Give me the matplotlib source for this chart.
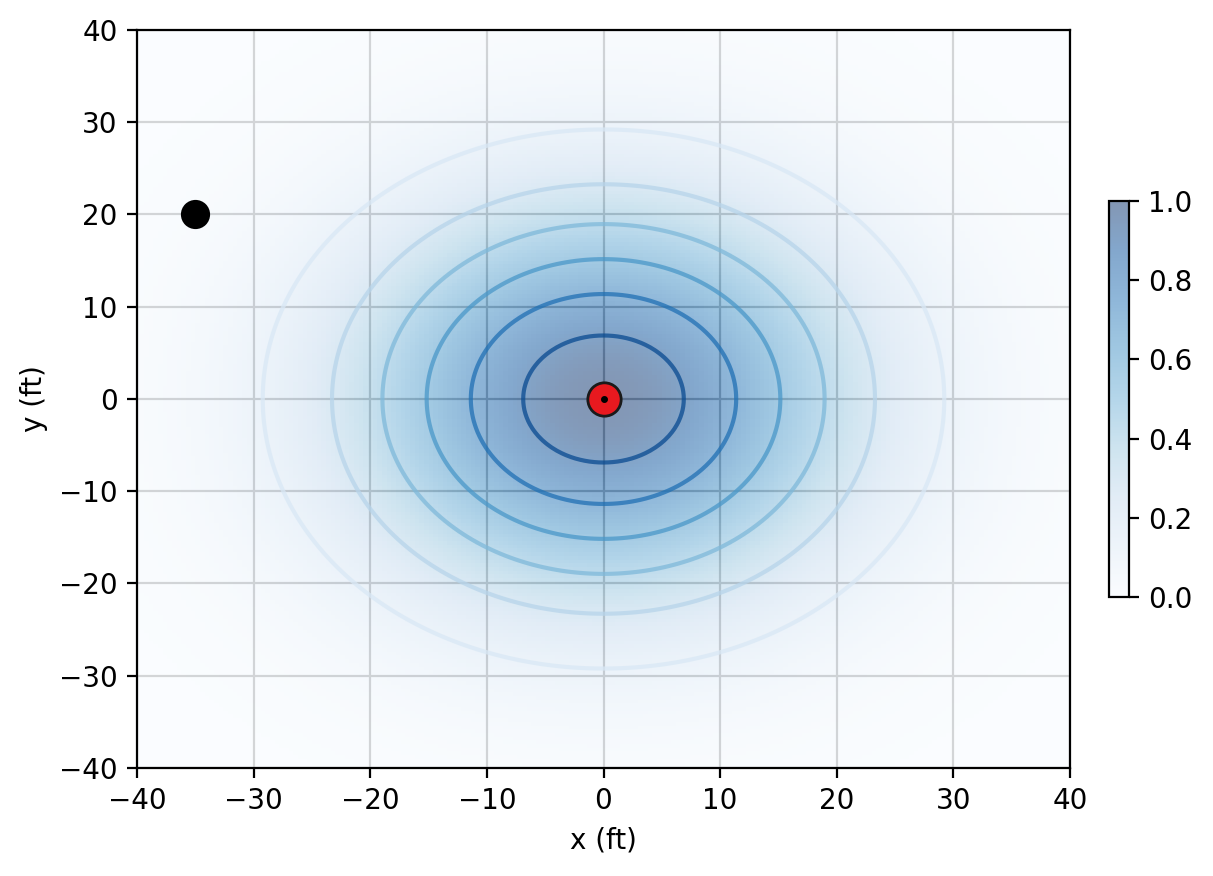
import numpy as np
import matplotlib
matplotlib.use("Agg")
import matplotlib.pyplot as plt

# campo gaussiano centrado en la fuente
fuente_x, fuente_y = 0, 0
sigma = 15
objetivo_x, objetivo_y = -35, 20
niveles = [0.15, 0.30, 0.45, 0.60, 0.75, 0.90]
x = np.linspace(-40, 40, 201)
y = np.linspace(-40, 40, 201)

X, Y = np.meshgrid(x, y)
Z = np.exp(-((X - fuente_x) ** 2 + (Y - fuente_y) ** 2) / (2 * sigma ** 2))

fig = plt.figure(figsize=(6.065, 4.38), dpi=200)
ax = fig.add_axes([137 / 1213, 1 - 768 / 876, 933 / 1213, 738 / 876])
cax = fig.add_axes([1109 / 1213, 1 - 597 / 876, 20 / 1213, 396 / 876])

malla = ax.pcolormesh(X, Y, Z, cmap="Blues", vmin=0, vmax=1, alpha=0.5, shading="auto")
ax.contour(X, Y, Z, levels=niveles, cmap="Blues", vmin=0, vmax=1, alpha=0.75, linewidths=1.5)
ax.set_axisbelow(True)
ax.grid(True)

ax.plot(objetivo_x, objetivo_y, "o", color="black", markersize=9.5)
ax.plot(fuente_x, fuente_y, "o", color="#e8191f", markeredgecolor="#1a1a1a",
        markeredgewidth=1.0, markersize=12)
ax.plot(fuente_x, fuente_y, "o", color="black", markersize=1.5)

ax.set_xlim(-40, 40)
ax.set_ylim(-40, 40)
ax.set_xlabel("x (ft)")
ax.set_ylabel("y (ft)")

fig.colorbar(malla, cax=cax)
fig.savefig("out.png", dpi=200)
